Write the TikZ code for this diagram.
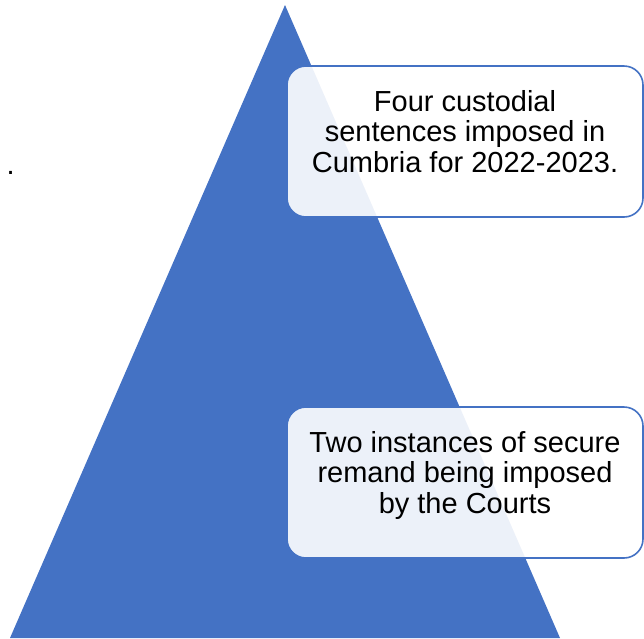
\documentclass[tikz,border=0pt]{standalone}
\usepackage{fontspec}
\setmainfont{Liberation Sans}
\usepackage{xcolor}
\usepackage{tikz}
\usetikzlibrary{positioning}
\definecolor{pyrblue}{HTML}{4472C4}

\begin{document}
\begin{tikzpicture}[x=1pt,y=-1pt,
  infobox/.style={draw=pyrblue,line width=1.6pt,rounded corners=19pt,fill=white,fill opacity=0.9,
    minimum width=356pt,minimum height=151pt,inner sep=0pt},
  boxtext/.style={align=center,inner sep=0pt,font=\fontsize{29}{30.5}\selectfont}]
  \useasboundingbox (0,0) rectangle (644,638);
  \fill[pyrblue] (285,5)--(560,638)--(10,638)--cycle;
  \node[anchor=base west,inner sep=0pt,font=\fontsize{29}{30.5}\selectfont] (dot) at (6.5,174) {.};
  \node[infobox] (custody) at (465,141.5) {};
  \node[boxtext,below=25pt of custody.north] (custodytext) {Four custodial\\sentences imposed in\\Cumbria for 2022-2023.};
  \node[infobox] (remand) at (465,482.5) {};
  \node[boxtext,below=25pt of remand.north] (remandtext) {Two instances of secure\\remand being imposed\\by the Courts};
\end{tikzpicture}
\end{document}
